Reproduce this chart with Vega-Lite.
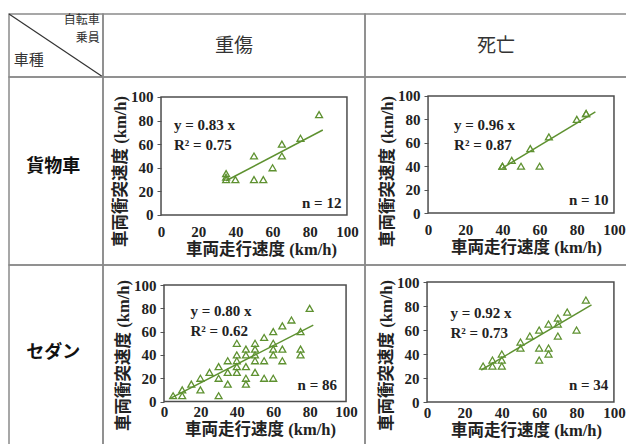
{
  "$schema": "https://vega.github.io/schema/vega-lite/v6.json",
  "padding": {"left": 7, "top": 12, "right": 0, "bottom": 0},
  "background": "white",
  "columns": 3,
  "spacing": 0,
  "bounds": "flush",
  "config": {
    "view": {"stroke": "#8a8a8a", "strokeWidth": 1.5},
    "axis": {
      "grid": false, "domain": false, "labelFlush": false, "labelOverlap": false,
      "labelFont": "Liberation Serif", "labelFontWeight": "bold", "labelFontSize": 15, "labelColor": "#222",
      "titleFont": "Liberation Serif, Noto Sans CJK JP", "titleFontWeight": "bold", "titleFontSize": 16.5, "titleColor": "#222"
    },
    "axisX": {"ticks": false, "tickSize": 0, "labelPadding": 9, "titlePadding": 2},
    "axisY": {"ticks": true, "tickSize": 4, "tickColor": "#555", "labelPadding": 4, "titlePadding": 2}
  },
  "datasets": {
    "p1": [
      {"speed": 35, "impact": 35}, {"speed": 35, "impact": 32}, {"speed": 35, "impact": 30},
      {"speed": 40, "impact": 30}, {"speed": 50, "impact": 30}, {"speed": 55, "impact": 30},
      {"speed": 50, "impact": 50}, {"speed": 60, "impact": 40}, {"speed": 65, "impact": 60},
      {"speed": 65, "impact": 50}, {"speed": 75, "impact": 65}, {"speed": 85, "impact": 85}
    ],
    "p2": [
      {"speed": 40, "impact": 40}, {"speed": 40, "impact": 40}, {"speed": 45, "impact": 45},
      {"speed": 50, "impact": 40}, {"speed": 55, "impact": 55}, {"speed": 60, "impact": 40},
      {"speed": 65, "impact": 65}, {"speed": 80, "impact": 80}, {"speed": 85, "impact": 85},
      {"speed": 85, "impact": 85}
    ],
    "p3": [
      {"speed": 5, "impact": 5}, {"speed": 10, "impact": 10}, {"speed": 10, "impact": 5},
      {"speed": 15, "impact": 15}, {"speed": 20, "impact": 20}, {"speed": 20, "impact": 10},
      {"speed": 25, "impact": 25}, {"speed": 30, "impact": 30}, {"speed": 30, "impact": 20},
      {"speed": 30, "impact": 5}, {"speed": 35, "impact": 35}, {"speed": 35, "impact": 25},
      {"speed": 35, "impact": 15}, {"speed": 40, "impact": 50}, {"speed": 40, "impact": 40},
      {"speed": 40, "impact": 35}, {"speed": 40, "impact": 30}, {"speed": 40, "impact": 25},
      {"speed": 45, "impact": 45}, {"speed": 45, "impact": 40}, {"speed": 45, "impact": 30},
      {"speed": 45, "impact": 20}, {"speed": 45, "impact": 15}, {"speed": 50, "impact": 50},
      {"speed": 50, "impact": 45}, {"speed": 50, "impact": 40}, {"speed": 50, "impact": 35},
      {"speed": 50, "impact": 25}, {"speed": 55, "impact": 55}, {"speed": 55, "impact": 35},
      {"speed": 55, "impact": 20}, {"speed": 60, "impact": 60}, {"speed": 60, "impact": 50},
      {"speed": 60, "impact": 45}, {"speed": 60, "impact": 40}, {"speed": 60, "impact": 20},
      {"speed": 65, "impact": 65}, {"speed": 65, "impact": 45}, {"speed": 65, "impact": 35},
      {"speed": 70, "impact": 70}, {"speed": 75, "impact": 60}, {"speed": 75, "impact": 45},
      {"speed": 75, "impact": 40}, {"speed": 80, "impact": 80}
    ],
    "p4": [
      {"speed": 30, "impact": 30}, {"speed": 35, "impact": 35}, {"speed": 35, "impact": 30},
      {"speed": 40, "impact": 40}, {"speed": 40, "impact": 35}, {"speed": 40, "impact": 30},
      {"speed": 50, "impact": 50}, {"speed": 50, "impact": 45}, {"speed": 55, "impact": 55},
      {"speed": 60, "impact": 60}, {"speed": 60, "impact": 45}, {"speed": 60, "impact": 35},
      {"speed": 65, "impact": 65}, {"speed": 65, "impact": 45}, {"speed": 65, "impact": 40},
      {"speed": 70, "impact": 70}, {"speed": 70, "impact": 65}, {"speed": 70, "impact": 55},
      {"speed": 75, "impact": 75}, {"speed": 80, "impact": 60}, {"speed": 85, "impact": 85}
    ],
    "t1": [{"speed": 35, "impact": 29}, {"speed": 87, "impact": 72}],
    "t2": [{"speed": 40, "impact": 38.4}, {"speed": 90, "impact": 86.4}],
    "t3": [{"speed": 4, "impact": 3.2}, {"speed": 82, "impact": 65.6}],
    "t4": [{"speed": 29, "impact": 26.7}, {"speed": 88, "impact": 81}]
  },
  "concat": [
    {
      "width": 94, "height": 63,
      "data": {"values": [{}]},
      "layer": [
        {"mark": {"type": "rule", "color": "#333", "strokeWidth": 1.2},
         "encoding": {
           "x": {"datum": 0, "type": "quantitative", "scale": {"domain": [0, 1], "nice": false}, "axis": null},
           "x2": {"datum": 1},
           "y": {"datum": 1, "type": "quantitative", "scale": {"domain": [0, 1], "nice": false}, "axis": null},
           "y2": {"datum": 0}}},
        {"mark": {"type": "text", "align": "right", "baseline": "middle", "font": "Noto Sans CJK JP", "fontSize": 12, "color": "#333"},
         "encoding": {
           "x": {"datum": 0.965, "type": "quantitative", "scale": {"domain": [0, 1], "nice": false}, "axis": null},
           "y": {"datum": 0.9, "type": "quantitative", "scale": {"domain": [0, 1], "nice": false}, "axis": null},
           "text": {"value": "自転車"}}},
        {"mark": {"type": "text", "align": "right", "baseline": "middle", "font": "Noto Sans CJK JP", "fontSize": 12, "color": "#333"},
         "encoding": {
           "x": {"datum": 0.965, "type": "quantitative", "scale": {"domain": [0, 1], "nice": false}, "axis": null},
           "y": {"datum": 0.62, "type": "quantitative", "scale": {"domain": [0, 1], "nice": false}, "axis": null},
           "text": {"value": "乗員"}}},
        {"mark": {"type": "text", "align": "left", "baseline": "middle", "font": "Noto Sans CJK JP", "fontSize": 15, "color": "#333"},
         "encoding": {
           "x": {"datum": 0.05, "type": "quantitative", "scale": {"domain": [0, 1], "nice": false}, "axis": null},
           "y": {"datum": 0.27, "type": "quantitative", "scale": {"domain": [0, 1], "nice": false}, "axis": null},
           "text": {"value": "車種"}}}
      ]
    },
    {
      "width": 262, "height": 63,
      "data": {"values": [{}]},
      "mark": {"type": "text", "align": "center", "baseline": "middle", "font": "Noto Sans CJK JP", "fontSize": 19, "color": "#333"},
      "encoding": {
        "x": {"datum": 0.5, "type": "quantitative", "scale": {"domain": [0, 1], "nice": false}, "axis": null},
        "y": {"datum": 0.5, "type": "quantitative", "scale": {"domain": [0, 1], "nice": false}, "axis": null},
        "text": {"value": "重傷"}}
    },
    {
      "width": 262, "height": 63,
      "data": {"values": [{}]},
      "mark": {"type": "text", "align": "center", "baseline": "middle", "font": "Noto Sans CJK JP", "fontSize": 19, "color": "#333"},
      "encoding": {
        "x": {"datum": 0.5, "type": "quantitative", "scale": {"domain": [0, 1], "nice": false}, "axis": null},
        "y": {"datum": 0.5, "type": "quantitative", "scale": {"domain": [0, 1], "nice": false}, "axis": null},
        "text": {"value": "死亡"}}
    },
    {
      "width": 94, "height": 188,
      "data": {"values": [{}]},
      "mark": {"type": "text", "align": "center", "baseline": "middle", "font": "Noto Sans CJK JP", "fontWeight": "bold", "fontSize": 18, "color": "#111"},
      "encoding": {
        "x": {"datum": 0.47, "type": "quantitative", "scale": {"domain": [0, 1], "nice": false}, "axis": null},
        "y": {"datum": 0.52, "type": "quantitative", "scale": {"domain": [0, 1], "nice": false}, "axis": null},
        "text": {"value": "貨物車"}}
    },
    {
      "width": 262, "height": 188,
      "resolve": {"axis": {"x": "independent", "y": "independent"}},
      "layer": [
        {"data": {"values": [{}]},
         "mark": {"type": "rect", "filled": false, "color": "#4d4d4d", "strokeWidth": 1.5},
         "encoding": {
           "x": {"datum": 0, "type": "quantitative", "scale": {"domain": [-31.2, 109.7], "nice": false, "zero": false}, "axis": null},
           "x2": {"datum": 100},
           "y": {"datum": 0, "type": "quantitative", "scale": {"domain": [-42.4, 116.9], "nice": false, "zero": false}, "axis": null},
           "y2": {"datum": 100}}},
        {"data": {"name": "t1"},
         "mark": {"type": "line", "color": "#5e9130", "strokeWidth": 1.5},
         "encoding": {
           "x": {"field": "speed", "type": "quantitative", "scale": {"domain": [-31.2, 109.7], "nice": false, "zero": false}, "axis": null},
           "y": {"field": "impact", "type": "quantitative", "scale": {"domain": [-42.4, 116.9], "nice": false, "zero": false}, "axis": null}}},
        {"data": {"name": "p1"},
         "mark": {"type": "point", "shape": "triangle-up", "filled": false, "color": "#5e9130", "size": 48, "strokeWidth": 1.3, "opacity": 1},
         "encoding": {
           "x": {"field": "speed", "type": "quantitative", "scale": {"domain": [-31.2, 109.7], "nice": false, "zero": false},
                 "axis": {"values": [0, 20, 40, 60, 80, 100], "labelOverlap": false, "offset": -50, "title": "車両走行速度 (km/h)", "titleX": 158}},
           "y": {"field": "impact", "type": "quantitative", "scale": {"domain": [-42.4, 116.9], "nice": false, "zero": false},
                 "axis": {"values": [0, 20, 40, 60, 80, 100], "labelOverlap": false, "offset": -58, "title": "車両衝突速度 (km/h)"}}}},
        {"data": {"values": [{}]},
         "mark": {"type": "text", "align": "left", "baseline": "middle", "lineHeight": 20, "font": "Liberation Serif", "fontWeight": "bold", "fontSize": 15, "color": "#222"},
         "encoding": {
           "x": {"datum": 7, "type": "quantitative", "scale": {"domain": [-31.2, 109.7], "nice": false, "zero": false}, "axis": null},
           "y": {"datum": 76, "type": "quantitative", "scale": {"domain": [-42.4, 116.9], "nice": false, "zero": false}, "axis": null},
           "text": {"value": ["y = 0.83 x", "R² = 0.75"]}}},
        {"data": {"values": [{}]},
         "mark": {"type": "text", "align": "right", "baseline": "middle", "font": "Liberation Serif", "fontWeight": "bold", "fontSize": 15, "color": "#222"},
         "encoding": {
           "x": {"datum": 97, "type": "quantitative", "scale": {"domain": [-31.2, 109.7], "nice": false, "zero": false}, "axis": null},
           "y": {"datum": 10, "type": "quantitative", "scale": {"domain": [-42.4, 116.9], "nice": false, "zero": false}, "axis": null},
           "text": {"value": "n = 12"}}}
      ]
    },
    {
      "width": 262, "height": 188,
      "resolve": {"axis": {"x": "independent", "y": "independent"}},
      "layer": [
        {"data": {"values": [{}]},
         "mark": {"type": "rect", "filled": false, "color": "#4d4d4d", "strokeWidth": 1.5},
         "encoding": {
           "x": {"datum": 0, "type": "quantitative", "scale": {"domain": [-33.9, 107.0], "nice": false, "zero": false}, "axis": null},
           "x2": {"datum": 100},
           "y": {"datum": 0, "type": "quantitative", "scale": {"domain": [-44.4, 116.2], "nice": false, "zero": false}, "axis": null},
           "y2": {"datum": 100}}},
        {"data": {"name": "t2"},
         "mark": {"type": "line", "color": "#5e9130", "strokeWidth": 1.5},
         "encoding": {
           "x": {"field": "speed", "type": "quantitative", "scale": {"domain": [-33.9, 107.0], "nice": false, "zero": false}, "axis": null},
           "y": {"field": "impact", "type": "quantitative", "scale": {"domain": [-44.4, 116.2], "nice": false, "zero": false}, "axis": null}}},
        {"data": {"name": "p2"},
         "mark": {"type": "point", "shape": "triangle-up", "filled": false, "color": "#5e9130", "size": 48, "strokeWidth": 1.3, "opacity": 1},
         "encoding": {
           "x": {"field": "speed", "type": "quantitative", "scale": {"domain": [-33.9, 107.0], "nice": false, "zero": false},
                 "axis": {"values": [0, 20, 40, 60, 80, 100], "labelOverlap": false, "offset": -52, "title": "車両走行速度 (km/h)", "titleX": 161}},
           "y": {"field": "impact", "type": "quantitative", "scale": {"domain": [-44.4, 116.2], "nice": false, "zero": false},
                 "axis": {"values": [0, 20, 40, 60, 80, 100], "labelOverlap": false, "offset": -63, "title": "車両衝突速度 (km/h)"}}}},
        {"data": {"values": [{}]},
         "mark": {"type": "text", "align": "left", "baseline": "middle", "lineHeight": 20, "font": "Liberation Serif", "fontWeight": "bold", "fontSize": 15, "color": "#222"},
         "encoding": {
           "x": {"datum": 14, "type": "quantitative", "scale": {"domain": [-33.9, 107.0], "nice": false, "zero": false}, "axis": null},
           "y": {"datum": 75, "type": "quantitative", "scale": {"domain": [-44.4, 116.2], "nice": false, "zero": false}, "axis": null},
           "text": {"value": ["y = 0.96 x", "R² = 0.87"]}}},
        {"data": {"values": [{}]},
         "mark": {"type": "text", "align": "right", "baseline": "middle", "font": "Liberation Serif", "fontWeight": "bold", "fontSize": 15, "color": "#222"},
         "encoding": {
           "x": {"datum": 97, "type": "quantitative", "scale": {"domain": [-33.9, 107.0], "nice": false, "zero": false}, "axis": null},
           "y": {"datum": 11, "type": "quantitative", "scale": {"domain": [-44.4, 116.2], "nice": false, "zero": false}, "axis": null},
           "text": {"value": "n = 10"}}}
      ]
    },
    {
      "width": 94, "height": 180,
      "data": {"values": [{}]},
      "mark": {"type": "text", "align": "center", "baseline": "middle", "font": "Noto Sans CJK JP", "fontWeight": "bold", "fontSize": 18, "color": "#111"},
      "encoding": {
        "x": {"datum": 0.47, "type": "quantitative", "scale": {"domain": [0, 1], "nice": false}, "axis": null},
        "y": {"datum": 0.51, "type": "quantitative", "scale": {"domain": [0, 1], "nice": false}, "axis": null},
        "text": {"value": "セダン"}}
    },
    {
      "width": 262, "height": 180,
      "resolve": {"axis": {"x": "independent", "y": "independent"}},
      "layer": [
        {"data": {"values": [{}]},
         "mark": {"type": "rect", "filled": false, "color": "#4d4d4d", "strokeWidth": 1.5},
         "encoding": {
           "x": {"datum": 0, "type": "quantitative", "scale": {"domain": [-33.5, 110.4], "nice": false, "zero": false}, "axis": null},
           "x2": {"datum": 100},
           "y": {"datum": 0, "type": "quantitative", "scale": {"domain": [-37.3, 117.2], "nice": false, "zero": false}, "axis": null},
           "y2": {"datum": 100}}},
        {"data": {"name": "t3"},
         "mark": {"type": "line", "color": "#5e9130", "strokeWidth": 1.5},
         "encoding": {
           "x": {"field": "speed", "type": "quantitative", "scale": {"domain": [-33.5, 110.4], "nice": false, "zero": false}, "axis": null},
           "y": {"field": "impact", "type": "quantitative", "scale": {"domain": [-37.3, 117.2], "nice": false, "zero": false}, "axis": null}}},
        {"data": {"name": "p3"},
         "mark": {"type": "point", "shape": "triangle-up", "filled": false, "color": "#5e9130", "size": 48, "strokeWidth": 1.3, "opacity": 1},
         "encoding": {
           "x": {"field": "speed", "type": "quantitative", "scale": {"domain": [-33.5, 110.4], "nice": false, "zero": false},
                 "axis": {"values": [0, 20, 40, 60, 80, 100], "labelOverlap": false, "offset": -49.5, "title": "車両走行速度 (km/h)", "titleX": 157}},
           "y": {"field": "impact", "type": "quantitative", "scale": {"domain": [-37.3, 117.2], "nice": false, "zero": false},
                 "axis": {"values": [0, 20, 40, 60, 80, 100], "labelOverlap": false, "offset": -61, "title": "車両衝突速度 (km/h)"}}}},
        {"data": {"values": [{}]},
         "mark": {"type": "text", "align": "left", "baseline": "middle", "lineHeight": 20, "font": "Liberation Serif", "fontWeight": "bold", "fontSize": 15, "color": "#222"},
         "encoding": {
           "x": {"datum": 14.5, "type": "quantitative", "scale": {"domain": [-33.5, 110.4], "nice": false, "zero": false}, "axis": null},
           "y": {"datum": 78, "type": "quantitative", "scale": {"domain": [-37.3, 117.2], "nice": false, "zero": false}, "axis": null},
           "text": {"value": ["y = 0.80 x", "R² = 0.62"]}}},
        {"data": {"values": [{}]},
         "mark": {"type": "text", "align": "right", "baseline": "middle", "font": "Liberation Serif", "fontWeight": "bold", "fontSize": 15, "color": "#222"},
         "encoding": {
           "x": {"datum": 95, "type": "quantitative", "scale": {"domain": [-33.5, 110.4], "nice": false, "zero": false}, "axis": null},
           "y": {"datum": 14, "type": "quantitative", "scale": {"domain": [-37.3, 117.2], "nice": false, "zero": false}, "axis": null},
           "text": {"value": "n = 86"}}}
      ]
    },
    {
      "width": 262, "height": 180,
      "resolve": {"axis": {"x": "independent", "y": "independent"}},
      "layer": [
        {"data": {"values": [{}]},
         "mark": {"type": "rect", "filled": false, "color": "#4d4d4d", "strokeWidth": 1.5},
         "encoding": {
           "x": {"datum": 0, "type": "quantitative", "scale": {"domain": [-33.2, 107.0], "nice": false, "zero": false}, "axis": null},
           "x2": {"datum": 100},
           "y": {"datum": 0, "type": "quantitative", "scale": {"domain": [-35.8, 114.2], "nice": false, "zero": false}, "axis": null},
           "y2": {"datum": 100}}},
        {"data": {"name": "t4"},
         "mark": {"type": "line", "color": "#5e9130", "strokeWidth": 1.5},
         "encoding": {
           "x": {"field": "speed", "type": "quantitative", "scale": {"domain": [-33.2, 107.0], "nice": false, "zero": false}, "axis": null},
           "y": {"field": "impact", "type": "quantitative", "scale": {"domain": [-35.8, 114.2], "nice": false, "zero": false}, "axis": null}}},
        {"data": {"name": "p4"},
         "mark": {"type": "point", "shape": "triangle-up", "filled": false, "color": "#5e9130", "size": 48, "strokeWidth": 1.3, "opacity": 1},
         "encoding": {
           "x": {"field": "speed", "type": "quantitative", "scale": {"domain": [-33.2, 107.0], "nice": false, "zero": false},
                 "axis": {"values": [0, 20, 40, 60, 80, 100], "labelOverlap": false, "offset": -49, "title": "車両走行速度 (km/h)", "titleX": 161}},
           "y": {"field": "impact", "type": "quantitative", "scale": {"domain": [-35.8, 114.2], "nice": false, "zero": false},
                 "axis": {"values": [0, 20, 40, 60, 80, 100], "labelOverlap": false, "offset": -62, "title": "車両衝突速度 (km/h)"}}}},
        {"data": {"values": [{}]},
         "mark": {"type": "text", "align": "left", "baseline": "middle", "lineHeight": 20, "font": "Liberation Serif", "fontWeight": "bold", "fontSize": 15, "color": "#222"},
         "encoding": {
           "x": {"datum": 12.5, "type": "quantitative", "scale": {"domain": [-33.2, 107.0], "nice": false, "zero": false}, "axis": null},
           "y": {"datum": 74, "type": "quantitative", "scale": {"domain": [-35.8, 114.2], "nice": false, "zero": false}, "axis": null},
           "text": {"value": ["y = 0.92 x", "R² = 0.73"]}}},
        {"data": {"values": [{}]},
         "mark": {"type": "text", "align": "right", "baseline": "middle", "font": "Liberation Serif", "fontWeight": "bold", "fontSize": 15, "color": "#222"},
         "encoding": {
           "x": {"datum": 97, "type": "quantitative", "scale": {"domain": [-33.2, 107.0], "nice": false, "zero": false}, "axis": null},
           "y": {"datum": 14, "type": "quantitative", "scale": {"domain": [-35.8, 114.2], "nice": false, "zero": false}, "axis": null},
           "text": {"value": "n = 34"}}}
      ]
    }
  ]
}
